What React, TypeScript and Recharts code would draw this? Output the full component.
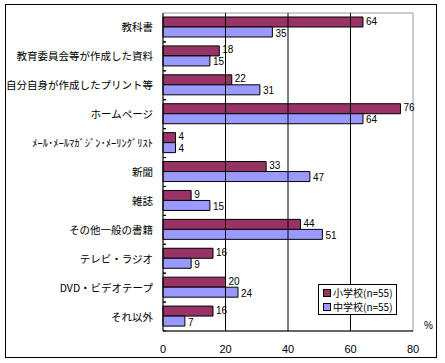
import React from 'react';
import { BarChart, Bar, XAxis, YAxis, ReferenceLine, ReferenceArea, LabelList } from 'recharts';

const categories = [
  '教科書',
  '教育委員会等が作成した資料',
  '自分自身が作成したプリント等',
  'ホームページ',
  'ﾒｰﾙ･ﾒｰﾙﾏｶﾞｼﾞﾝ･ﾒｰﾘﾝｸﾞﾘｽﾄ',
  '新聞',
  '雑誌',
  'その他一般の書籍',
  'テレビ・ラジオ',
  'DVD・ビデオテープ',
  'それ以外',
];
const elementary = [64, 18, 22, 76, 4, 33, 9, 44, 16, 20, 16];
const juniorHigh = [35, 15, 31, 64, 4, 47, 15, 51, 9, 24, 7];
const xTicks = [0, 20, 40, 60, 80];
const seriesNames = ['小学校(n=55)', '中学校(n=55)'];

const RED = '#993366';
const BLUE = '#9999FF';
const FONT = '"Noto Sans CJK JP", "Noto Sans", sans-serif';
const NUM_FONT = '"Liberation Sans", sans-serif';

const data = categories.map((name, i) => ({ name, e: elementary[i], j: juniorHigh[i] }));

// plot area height / number of categories, used for the little boundary ticks
const PLOT_H = 318;
const BAND = PLOT_H / categories.length;

const CategoryTick = (props: any) => {
  const { x, y, payload, index } = props;
  return (
    <g>
      <text x={x} y={y} dy={4} textAnchor="end" fontSize={10.5} fontFamily={FONT} fill="#000">
        {payload.value}
      </text>
      {index > 0 && (
        <line x1={x + 10} x2={x + 13} y1={y - BAND / 2} y2={y - BAND / 2} stroke="#000" />
      )}
      <line x1={x + 10} x2={x + 13} y1={y + BAND / 2} y2={y + BAND / 2} stroke="#000" />
    </g>
  );
};

// value label drawn right of the bar end, nudged a touch so the two rows don't touch
const valueLabel = (nudge: number) => (props: any) => {
  const { x, y, width, height, value } = props;
  return (
    <text
      x={x + width + 3}
      y={y + height / 2 + nudge}
      dominantBaseline="central"
      fontSize={10}
      fontFamily={NUM_FONT}
      fill="#000"
    >
      {value}
    </text>
  );
};

const LegendBox = () => (
  <div
    style={{
      position: 'absolute',
      left: 318,
      top: 284,
      width: 79,
      height: 31,
      border: '1px solid #000',
      background: '#fff',
      boxSizing: 'border-box',
      fontFamily: FONT,
      fontSize: 10,
      lineHeight: '14px',
      padding: '1px 0 0 4px',
      whiteSpace: 'nowrap',
    }}
  >
    {seriesNames.map((n, i) => (
      <div key={n} style={{ display: 'flex', alignItems: 'center' }}>
        <span
          style={{
            display: 'inline-block',
            width: 6,
            height: 6,
            background: i === 0 ? RED : BLUE,
            border: '1px solid #000',
            marginRight: 2,
            flexShrink: 0,
          }}
        />
        {n}
      </div>
    ))}
  </div>
);

export default function App() {
  return (
    <div style={{ position: 'absolute', left: 0, top: 0, width: 445, height: 363, background: '#fff' }}>
      <div
        style={{
          position: 'absolute',
          left: 5,
          top: 4,
          width: 432,
          height: 354,
          border: '1px solid #000',
          boxSizing: 'border-box',
        }}
      />
      <div style={{ position: 'absolute', left: 0, top: 0 }}>
        <BarChart
          width={445}
          height={363}
          data={data}
          layout="vertical"
          margin={{ top: 13, right: 32, bottom: 12, left: 0 }}
          barSize={10}
          barGap={0}
        >
          <ReferenceArea x1={0} x2={80} fill="none" stroke="#999" strokeWidth={1} ifOverflow="extendDomain" />
          {[20, 40, 60].map((v) => (
            <ReferenceLine key={v} x={v} stroke="#000" strokeWidth={1} />
          ))}
          <XAxis
            type="number"
            domain={[0, 80]}
            ticks={xTicks}
            height={20}
            tickLine={false}
            axisLine={{ stroke: '#000' }}
            tickMargin={8}
            tick={{ fontSize: 11, fill: '#000', fontFamily: NUM_FONT }}
          />
          <YAxis
            type="category"
            dataKey="name"
            width={163}
            tickSize={0}
            tickMargin={10}
            tickLine={false}
            axisLine={{ stroke: '#000' }}
            interval={0}
            tick={<CategoryTick />}
          />
          <Bar dataKey="e" name={seriesNames[0]} fill={RED} stroke="#000" strokeWidth={1} isAnimationActive={false}>
            <LabelList dataKey="e" content={valueLabel(-1)} />
          </Bar>
          <Bar dataKey="j" name={seriesNames[1]} fill={BLUE} stroke="#000" strokeWidth={1} isAnimationActive={false}>
            <LabelList dataKey="j" content={valueLabel(1)} />
          </Bar>
        </BarChart>
      </div>
      <LegendBox />
      <div
        style={{
          position: 'absolute',
          left: 424,
          top: 320,
          fontSize: 10,
          fontFamily: NUM_FONT,
        }}
      >
        %
      </div>
    </div>
  );
}
